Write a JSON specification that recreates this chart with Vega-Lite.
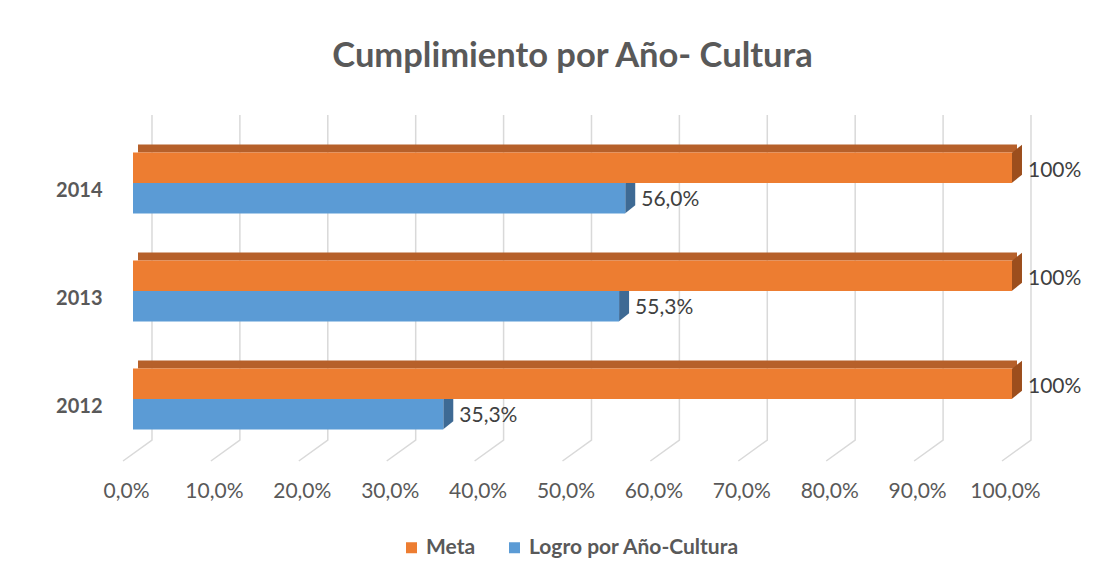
{
  "$schema": "https://vega.github.io/schema/vega-lite/v6.json",
  "autosize": "none",
  "width": 879,
  "height": 324,
  "padding": {"left": 133, "top": 129, "right": 104, "bottom": 128},
  "background": "white",
  "title": {
    "text": "Cumplimiento por Año- Cultura",
    "font": "Lato",
    "fontSize": 34.5,
    "fontWeight": "bold",
    "color": "#595959",
    "anchor": "middle",
    "offset": 37
  },
  "datasets": {
    "main": [
      {"anio": "2014", "serie": "Meta", "valor": 1.0},
      {"anio": "2014", "serie": "Logro por Año-Cultura", "valor": 0.56},
      {"anio": "2013", "serie": "Meta", "valor": 1.0},
      {"anio": "2013", "serie": "Logro por Año-Cultura", "valor": 0.553},
      {"anio": "2012", "serie": "Meta", "valor": 1.0},
      {"anio": "2012", "serie": "Logro por Año-Cultura", "valor": 0.353}
    ],
    "grid": [
      {"t": 0}, {"t": 0.1}, {"t": 0.2}, {"t": 0.3}, {"t": 0.4}, {"t": 0.5},
      {"t": 0.6}, {"t": 0.7}, {"t": 0.8}, {"t": 0.9}, {"t": 1.0}
    ]
  },
  "layer": [
    {
      "data": {"name": "grid"},
      "mark": {"type": "point", "shape": "M0.0633,-0.9467 L0.0633,0.1367 L-0.0333,0.2067", "size": 360000, "filled": false, "stroke": "#D9D9D9", "strokeWidth": 1.5, "opacity": 1},
      "encoding": {
        "x": {"field": "t", "type": "quantitative", "title": null},
        "y": {"datum": "2012"}
      }
    },
    {
      "data": {"name": "main"},
      "transform": [{"filter": "datum.serie !== 'Meta'"}],
      "mark": {"type": "point", "shape": "M0,-0.5 L0.333,-0.767 L0.333,0.233 L0,0.5 Z", "size": 3600, "filled": true, "color": "#3E6A94", "opacity": 1, "strokeWidth": 0},
      "encoding": {
        "x": {"field": "valor", "type": "quantitative", "title": null},
        "y": {"field": "anio", "type": "nominal", "title": null},
        "yOffset": {"field": "serie", "type": "nominal"}
      }
    },
    {
      "data": {"name": "main"},
      "transform": [{"filter": "datum.serie === 'Meta'"}],
      "mark": {"type": "bar", "height": 8, "color": "#B6602A", "xOffset": 5, "x2Offset": 5, "yOffset": -34.5},
      "encoding": {
        "x": {"field": "valor", "type": "quantitative", "title": null},
        "y": {"field": "anio", "type": "nominal", "title": null}
      }
    },
    {
      "data": {"name": "main"},
      "mark": {"type": "bar"},
      "encoding": {
        "x": {
          "field": "valor", "type": "quantitative", "title": null,
          "scale": {"domain": [0, 1], "nice": false},
          "axis": {
            "values": [0, 0.1, 0.2, 0.3, 0.4, 0.5, 0.6, 0.7, 0.8, 0.9, 1.0],
            "labelExpr": "replace(format(datum.value, '.1%'), '.', ',')",
            "grid": false, "ticks": false, "domain": false,
            "labelFlush": false, "labelOverlap": false,
            "labelFont": "Lato", "labelFontSize": 21, "labelColor": "#595959",
            "labelPadding": 27, "labelOffset": -7
          }
        },
        "y": {
          "field": "anio", "type": "nominal", "title": null,
          "scale": {"domain": ["2014", "2013", "2012"], "paddingInner": 0.435, "paddingOuter": 0.2175},
          "axis": {
            "grid": false, "ticks": false, "domain": false,
            "labelFont": "Lato", "labelFontSize": 20, "labelFontWeight": "bold",
            "labelColor": "#595959", "labelPadding": 31, "labelOffset": 8
          }
        },
        "yOffset": {
          "field": "serie", "type": "nominal",
          "scale": {"domain": ["Meta", "Logro por Año-Cultura"], "paddingInner": 0, "paddingOuter": 0}
        },
        "color": {
          "field": "serie", "type": "nominal",
          "scale": {"domain": ["Meta", "Logro por Año-Cultura"], "range": ["#ED7D31", "#5B9BD5"]},
          "legend": {
            "orient": "none", "legendX": 268, "legendY": 408,
            "direction": "horizontal", "title": null,
            "symbolType": "square", "symbolSize": 121, "symbolStrokeWidth": 0,
            "labelFont": "Lato", "labelFontSize": 21, "labelFontWeight": "bold",
            "labelColor": "#595959", "labelLimit": 400, "labelOffset": 4,
            "columnPadding": 28
          }
        }
      }
    },
    {
      "data": {"name": "main"},
      "transform": [{"filter": "datum.serie === 'Meta'"}],
      "mark": {"type": "point", "shape": "M0,-0.5 L0.333,-0.767 L0.333,0.233 L0,0.5 Z", "size": 3600, "filled": true, "color": "#9C4E1D", "opacity": 1, "strokeWidth": 0},
      "encoding": {
        "x": {"field": "valor", "type": "quantitative", "title": null},
        "y": {"field": "anio", "type": "nominal", "title": null},
        "yOffset": {"field": "serie", "type": "nominal"}
      }
    },
    {
      "data": {"name": "main"},
      "transform": [
        {"filter": "datum.serie !== 'Meta'"},
        {"calculate": "replace(format(datum.valor, '.1%'), '.', ',')", "as": "etiqueta"}
      ],
      "mark": {"type": "text", "align": "left", "baseline": "middle", "dx": 16, "dy": 2, "font": "Lato", "fontSize": 21, "color": "#404040"},
      "encoding": {
        "x": {"field": "valor", "type": "quantitative", "title": null},
        "y": {"field": "anio", "type": "nominal", "title": null},
        "yOffset": {"field": "serie", "type": "nominal"},
        "text": {"field": "etiqueta"}
      }
    },
    {
      "data": {"name": "main"},
      "transform": [
        {"filter": "datum.serie === 'Meta'"},
        {"calculate": "format(datum.valor, '.0%')", "as": "etiqueta"}
      ],
      "mark": {"type": "text", "align": "left", "baseline": "middle", "dx": 16, "dy": 3, "font": "Lato", "fontSize": 21, "color": "#404040"},
      "encoding": {
        "x": {"field": "valor", "type": "quantitative", "title": null},
        "y": {"field": "anio", "type": "nominal", "title": null},
        "yOffset": {"field": "serie", "type": "nominal"},
        "text": {"field": "etiqueta"}
      }
    }
  ],
  "config": {
    "view": {"stroke": null}
  }
}
